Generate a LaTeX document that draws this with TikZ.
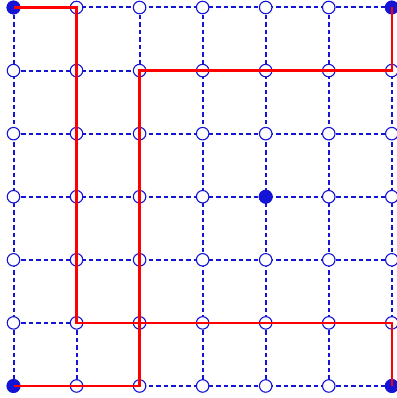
\documentclass[tikz,border=0pt]{standalone}
\definecolor{gblue}{RGB}{20,20,215}
\begin{document}
\begin{tikzpicture}[x=1pt,y=-1pt,
  gridline/.style={draw=gblue,line width=2pt,dash pattern=on 4.5pt off 3pt},
  redpath/.style={draw=red,line width=2.4pt},
  opennode/.style={circle,draw=gblue,fill=white,line width=1.1pt,minimum size=12.5pt,inner sep=0pt},
  fullnode/.style={circle,draw=gblue,fill=gblue,line width=1pt,minimum size=13pt,inner sep=0pt}]
\useasboundingbox (0,0) rectangle (396,398);
% grid lines
\foreach \i in {0,...,6}{
  \draw[gridline] (13.5+63.05*\i,7.5) -- (13.5+63.05*\i,386);
  \draw[gridline] (13.5,7.5+63.08*\i) -- (391.8,7.5+63.08*\i);
}
% nodes
\foreach \i in {0,...,6}{
  \foreach \j in {0,...,6}{
    \node[opennode] (n\i\j) at (13.5+63.05*\i,7.5+63.08*\j) {};
  }
}
\node[fullnode] at (n00) {};
\node[fullnode] at (n60) {};
\node[fullnode] at (n06) {};
\node[fullnode] at (n66) {};
\node[fullnode] at (n43) {};
% red paths
\draw[redpath] (n00.center) -- (n10.center) -- (n15.center) -- (n65.center) -- (n66.center);
\draw[redpath] (n06.center) -- (n26.center) -- (n21.center) -- (n61.center) -- (n60.center);
\end{tikzpicture}
\end{document}
